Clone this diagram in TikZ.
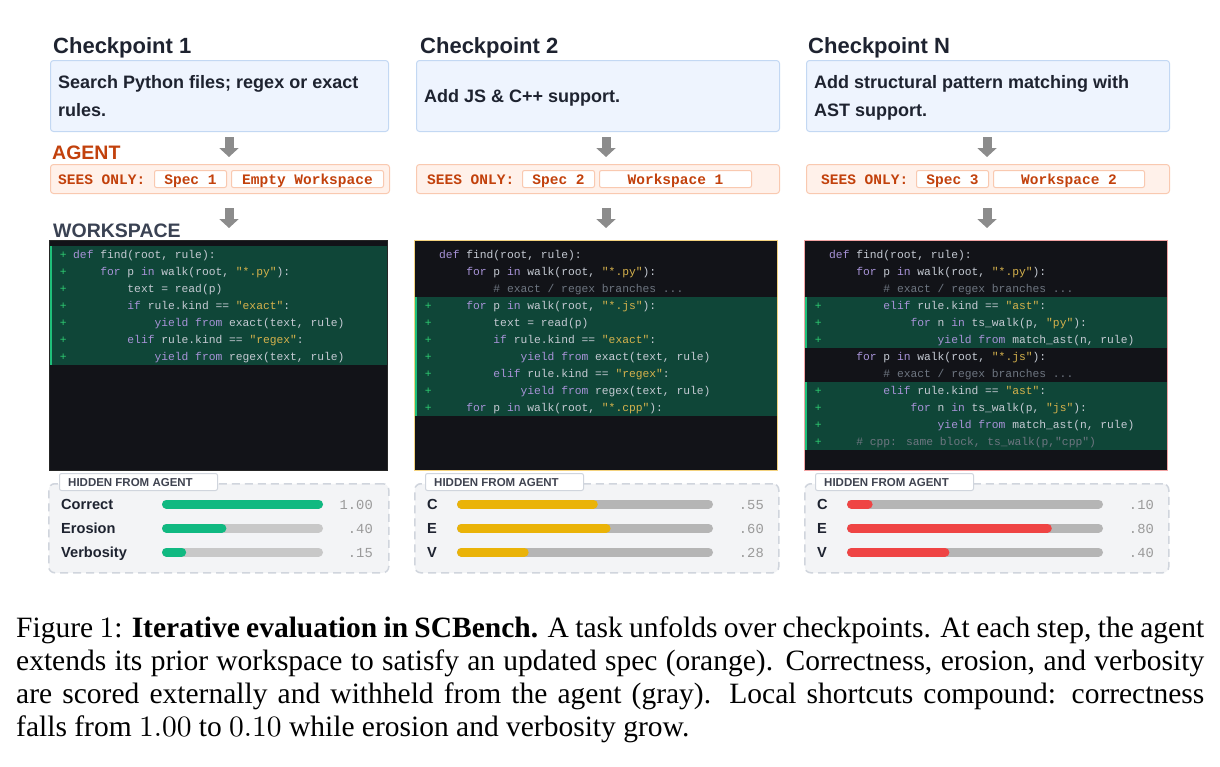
\documentclass[tikz,border=0pt]{standalone}
\usepackage[no-math]{fontspec}
\setmainfont{Liberation Serif}
\newfontfamily\sans{Liberation Sans}
\newfontfamily\mono{Liberation Mono}
\newfontfamily\lmr{lmroman10-regular.otf}
\usetikzlibrary{arrows.meta,calc}
\definecolor{ink}{HTML}{1E2330}
\definecolor{specfill}{HTML}{EEF4FE}
\definecolor{specborder}{HTML}{C3D8F3}
\definecolor{agentfill}{HTML}{FFF1EA}
\definecolor{agentborder}{HTML}{F9C9B0}
\definecolor{agenttext}{HTML}{C2410C}
\definecolor{wsink}{HTML}{3A4253}
\definecolor{arrowgray}{HTML}{8C8C8C}
\definecolor{panelfill}{HTML}{121318}
\definecolor{added}{HTML}{0F4638}
\definecolor{addbar}{HTML}{1FBF7A}
\definecolor{plus}{HTML}{2ECC71}
\definecolor{codetext}{HTML}{C5CAD3}
\definecolor{kwc}{HTML}{A893D8}
\definecolor{strc}{HTML}{D6B24C}
\definecolor{cmtc}{HTML}{6E7681}
\definecolor{hidfill}{HTML}{F3F4F6}
\definecolor{hidborder}{HTML}{D0D5DD}
\definecolor{tagtext}{HTML}{3F4350}
\definecolor{trackA}{HTML}{C8C8C8}
\definecolor{trackB}{HTML}{B5B5B5}
\definecolor{valc}{HTML}{9A9A9A}
\definecolor{goodc}{HTML}{10B981}
\definecolor{midc}{HTML}{EAB308}
\definecolor{badc}{HTML}{EF4444}
\definecolor{border2}{HTML}{F3D27E}
\definecolor{border3}{HTML}{F2A3A3}
\newcommand\kw[1]{\textcolor{kwc}{#1}}
\newcommand\st[1]{\textcolor{strc}{#1}}
\newcommand\cm[1]{\textcolor{cmtc}{#1}}
\newcommand\num[1]{{\lmr #1}}
\newcommand\qq{\char"22\relax}
\def\cw{6.78}
\newcommand\codeln[4]{\node[code] (c-#1-#3) at ({#1+#2*\cw},{258.5+17*#3}) {#4};}
\newcommand\plusln[2]{\node[code, text=plus] (p-#1-#2) at (#1,{258.5+17*#2}) {+};}
\newcommand\metricbar[6]{%
  \draw[#6, line width=9pt, line cap=round] ({#1+4.5},#3) -- ({#2-4.5},#3);
  \draw[#5, line width=9pt, line cap=round] ({#1+4.5},#3) -- ({#1+#4*(#2-#1)-4.5},#3);}
\begin{document}
\begin{tikzpicture}[x=1pt,y=-1pt,
  title/.style={anchor=base west, inner sep=0, text=ink, font=\sans\bfseries\fontsize{22}{26}\selectfont},
  specbox/.style={draw=specborder, fill=specfill, line width=1pt, rounded corners=3pt, anchor=north west, minimum height=71pt},
  spectext/.style={anchor=base west, inner sep=0, text=ink, align=left, font=\sans\bfseries\fontsize{18}{28}\selectfont},
  agentbox/.style={draw=agentborder, fill=agentfill, line width=1pt, rounded corners=3pt, anchor=north west, minimum height=29pt},
  seetext/.style={anchor=base west, inner sep=0, text=agenttext, font=\mono\bfseries\fontsize{14.5}{16}\selectfont},
  seetag/.style={draw=agentborder, fill=white, line width=1pt, rounded corners=2pt, anchor=north west, minimum height=17pt, inner sep=0},
  sectlabel/.style={anchor=base west, inner sep=0, font=\sans\bfseries\fontsize{19.5}{22}\selectfont},
  flow/.style={draw=arrowgray, line width=9pt, -{Triangle[width=19pt,length=9pt]}},
  panel/.style={fill=panelfill, line width=1pt, anchor=north west, minimum width=338pt, minimum height=230pt, inner sep=0},
  code/.style={anchor=base west, inner sep=0, text=codetext, font=\mono\fontsize{11.3}{13}\selectfont},
  hidbox/.style={draw=hidborder, fill=hidfill, line width=1.5pt, dash pattern=on 8pt off 5pt, rounded corners=6pt, anchor=north west, minimum height=89pt, minimum width=340pt, inner sep=0},
  hidtag/.style={draw=hidborder, fill=white, line width=1pt, rounded corners=2pt, anchor=north west, minimum width=158pt, minimum height=17pt, inner sep=0},
  tagtxt/.style={anchor=base west, inner sep=0, text=tagtext, font=\sans\bfseries\fontsize{11.5}{13}\selectfont},
  mlabel/.style={anchor=base west, inner sep=0, text=ink, font=\sans\bfseries\fontsize{14.6}{16}\selectfont},
  mval/.style={anchor=base east, inner sep=0, text=valc, font=\mono\fontsize{13.8}{16}\selectfont},
  caption/.style={anchor=base west, inner sep=0, text=black, font=\fontsize{29.5}{33}\selectfont}
]
\fill[white] (0,0) rectangle (1220,766);
\useasboundingbox (0,0) rectangle (1220,766);

% ---------- titles ----------
\node[title] (t1) at (53,53) {Checkpoint 1};
\node[title] (t2) at (420,53) {Checkpoint 2};
\node[title] (t3) at (808,53) {Checkpoint N};

% ---------- spec boxes ----------
\node[specbox, minimum width=338pt] (spec1) at (50,60) {};
\node[specbox, minimum width=363pt] (spec2) at (416,60) {};
\node[specbox, minimum width=363pt] (spec3) at (806,60) {};
\node[spectext] (s1) at (58,116) {Search Python files; regex or exact\\rules.};
\node[spectext] (s2) at (424,102) {Add JS \& C++ support.};
\node[spectext] (s3) at (814,116) {Add structural pattern matching with\\AST support.};

% ---------- agent ----------
\node[sectlabel, text=agenttext] (agentlbl) at (52,159.5) {AGENT};
\node[agentbox, minimum width=339pt] (agent1) at (50,164) {};
\node[agentbox, minimum width=363pt] (agent2) at (416,164) {};
\node[agentbox, minimum width=363pt] (agent3) at (806,164) {};
\node[seetext] (so1) at (58,184) {SEES ONLY:};
\node[seetext] (so2) at (427,184) {SEES ONLY:};
\node[seetext] (so3) at (821,184) {SEES ONLY:};
\node[seetag, minimum width=72pt] (sp1) at (154,170) {};
\node[seetag, minimum width=152pt] (wk1) at (231,170) {};
\node[seetag, minimum width=72pt] (sp2) at (522,170) {};
\node[seetag, minimum width=152pt] (wk2) at (599,170) {};
\node[seetag, minimum width=72pt] (sp3) at (916,170) {};
\node[seetag, minimum width=151pt] (wk3) at (993,170) {};
\node[seetext, anchor=base] (sp1t) at (sp1.center |- so1.base) {Spec 1};
\node[seetext, anchor=base] (wk1t) at (wk1.center |- so1.base) {Empty Workspace};
\node[seetext, anchor=base] (sp2t) at (sp2.center |- so2.base) {Spec 2};
\node[seetext, anchor=base] (wk2t) at (wk2.center |- so2.base) {Workspace 1};
\node[seetext, anchor=base] (sp3t) at (sp3.center |- so3.base) {Spec 3};
\node[seetext, anchor=base] (wk3t) at (wk3.center |- so3.base) {Workspace 2};

\node[sectlabel, text=wsink] (wslbl) at (53,237) {WORKSPACE};

% ---------- code panels ----------
\node[panel, draw=black!85] (ws1) at (49,240) {};
\node[panel, draw=border2, minimum width=363pt] (ws2) at (414,240) {};
\node[panel, draw=border3, minimum width=363pt] (ws3) at (804,240) {};

% added (green) rows
\fill[added] (49.5,246) rectangle (386.5,365);
\fill[addbar] (49.5,246) rectangle (52,365);
\fill[added] (414.5,297) rectangle (776.5,416);
\fill[addbar] (414.5,297) rectangle (417,416);
\fill[added] (804.5,297) rectangle (1166.5,348);
\fill[addbar] (804.5,297) rectangle (807,348);
\fill[added] (804.5,382) rectangle (1166.5,450);
\fill[addbar] (804.5,382) rectangle (807,450);

% column 1 code
\foreach \r in {0,...,6} {\plusln{59.6}{\r}}
\codeln{73}{0}{0}{\kw{def} find(root, rule):}
\codeln{73}{4}{1}{\kw{for} p \kw{in} walk(root, \st{\qq*.py\qq}):}
\codeln{73}{8}{2}{text = read(p)}
\codeln{73}{8}{3}{\kw{if} rule.kind == \st{\qq exact\qq}:}
\codeln{73}{12}{4}{\kw{yield} \kw{from} exact(text, rule)}
\codeln{73}{8}{5}{\kw{elif} rule.kind == \st{\qq regex\qq}:}
\codeln{73}{12}{6}{\kw{yield} \kw{from} regex(text, rule)}

% column 2 code
\foreach \r in {3,...,9} {\plusln{424.6}{\r}}
\codeln{439}{0}{0}{\kw{def} find(root, rule):}
\codeln{439}{4}{1}{\kw{for} p \kw{in} walk(root, \st{\qq*.py\qq}):}
\codeln{439}{8}{2}{\cm{\# exact / regex branches ...}}
\codeln{439}{4}{3}{\kw{for} p \kw{in} walk(root, \st{\qq*.js\qq}):}
\codeln{439}{8}{4}{text = read(p)}
\codeln{439}{8}{5}{\kw{if} rule.kind == \st{\qq exact\qq}:}
\codeln{439}{12}{6}{\kw{yield} \kw{from} exact(text, rule)}
\codeln{439}{8}{7}{\kw{elif} rule.kind == \st{\qq regex\qq}:}
\codeln{439}{12}{8}{\kw{yield} \kw{from} regex(text, rule)}
\codeln{439}{4}{9}{\kw{for} p \kw{in} walk(root, \st{\qq*.cpp\qq}):}

% column 3 code
\foreach \r in {3,4,5,8,9,10,11} {\plusln{814.6}{\r}}
\codeln{829}{0}{0}{\kw{def} find(root, rule):}
\codeln{829}{4}{1}{\kw{for} p \kw{in} walk(root, \st{\qq*.py\qq}):}
\codeln{829}{8}{2}{\cm{\# exact / regex branches ...}}
\codeln{829}{8}{3}{\kw{elif} rule.kind == \st{\qq ast\qq}:}
\codeln{829}{12}{4}{\kw{for} n \kw{in} ts\_walk(p, \st{\qq py\qq}):}
\codeln{829}{16}{5}{\kw{yield} \kw{from} match\_ast(n, rule)}
\codeln{829}{4}{6}{\kw{for} p \kw{in} walk(root, \st{\qq*.js\qq}):}
\codeln{829}{8}{7}{\cm{\# exact / regex branches ...}}
\codeln{829}{8}{8}{\kw{elif} rule.kind == \st{\qq ast\qq}:}
\codeln{829}{12}{9}{\kw{for} n \kw{in} ts\_walk(p, \st{\qq js\qq}):}
\codeln{829}{16}{10}{\kw{yield} \kw{from} match\_ast(n, rule)}
\codeln{829}{4}{11}{\cm{\# cpp: same block, ts\_walk(p,\qq cpp\qq)}}

% ---------- arrows ----------
\coordinate (ax1) at (229,0);
\coordinate (ax2) at (606,0);
\coordinate (ax3) at (987,0);
\draw[flow] ([yshift=-5pt]spec1.south -| ax1) -- ([yshift=7pt]agent1.north -| ax1);
\draw[flow] ([yshift=-5pt]spec2.south -| ax2) -- ([yshift=7pt]agent2.north -| ax2);
\draw[flow] ([yshift=-5pt]spec3.south -| ax3) -- ([yshift=7pt]agent3.north -| ax3);
\draw[flow] ([yshift=-14pt]agent1.south -| ax1) -- ([yshift=12pt]ws1.north -| ax1);
\draw[flow] ([yshift=-14pt]agent2.south -| ax2) -- ([yshift=12pt]ws2.north -| ax2);
\draw[flow] ([yshift=-14pt]agent3.south -| ax3) -- ([yshift=12pt]ws3.north -| ax3);

% ---------- hidden metrics ----------
\node[hidbox] (hid1) at (48,483) {};
\node[hidbox, minimum width=364pt] (hid2) at (414,483) {};
\node[hidbox, minimum width=364pt] (hid3) at (804,483) {};
\node[hidtag] (tag1) at (59,473) {};
\node[hidtag] (tag2) at (425,473) {};
\node[hidtag] (tag3) at (815,473) {};
\node[tagtxt] (tt1) at (68,486.5) {HIDDEN FROM AGENT};
\node[tagtxt] (tt2) at (434,486.5) {HIDDEN FROM AGENT};
\node[tagtxt] (tt3) at (824,486.5) {HIDDEN FROM AGENT};

\node[mlabel] (m11) at (61,509.5) {Correct};
\node[mlabel] (m12) at (61,533.5) {Erosion};
\node[mlabel] (m13) at (61,557.5) {Verbosity};
\metricbar{162}{323}{504}{1.00}{goodc}{trackA}
\metricbar{162}{323}{528}{0.40}{goodc}{trackA}
\metricbar{162}{323}{552}{0.15}{goodc}{trackA}
\node[mval] (v11) at (373,509.5) {1.00};
\node[mval] (v12) at (373,533.5) {.40};
\node[mval] (v13) at (373,557.5) {.15};

\node[mlabel] (m21) at (427,509.5) {C};
\node[mlabel] (m22) at (427,533.5) {E};
\node[mlabel] (m23) at (427,557.5) {V};
\metricbar{457}{713}{504}{0.55}{midc}{trackB}
\metricbar{457}{713}{528}{0.60}{midc}{trackB}
\metricbar{457}{713}{552}{0.28}{midc}{trackB}
\node[mval] (v21) at (764,509.5) {.55};
\node[mval] (v22) at (764,533.5) {.60};
\node[mval] (v23) at (764,557.5) {.28};

\node[mlabel] (m31) at (817,509.5) {C};
\node[mlabel] (m32) at (817,533.5) {E};
\node[mlabel] (m33) at (817,557.5) {V};
\metricbar{847}{1103}{504}{0.10}{badc}{trackB}
\metricbar{847}{1103}{528}{0.80}{badc}{trackB}
\metricbar{847}{1103}{552}{0.40}{badc}{trackB}
\node[mval] (v31) at (1154,509.5) {.10};
\node[mval] (v32) at (1154,533.5) {.80};
\node[mval] (v33) at (1154,557.5) {.40};

% ---------- caption ----------
\node[caption] (cap1) at (16,637.5) {\makebox[1188pt][s]{Figure \num{1}: \textbf{Iterative evaluation in SCBench.} A task unfolds over checkpoints. At each step, the agent}};
\node[caption] (cap2) at (16,670.5) {\makebox[1188pt][s]{extends its prior workspace to satisfy an updated spec (orange). Correctness, erosion, and verbosity}};
\node[caption] (cap3) at (16,703.5) {\makebox[1188pt][s]{are scored externally and withheld from the agent (gray). Local shortcuts compound: correctness}};
\node[caption] (cap4) at (16,736.5) {falls from \num{1.00} to \num{0.10} while erosion and verbosity grow.};
\end{tikzpicture}
\end{document}
